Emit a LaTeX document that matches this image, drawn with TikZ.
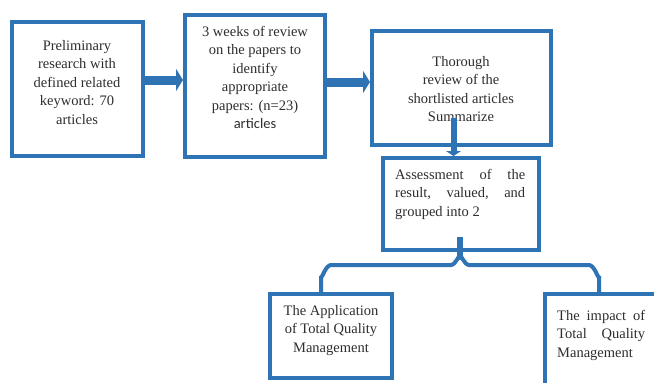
\documentclass[tikz,border=0pt]{standalone}
\usepackage{fontspec}
\setmainfont{Liberation Serif}
\newfontfamily\calibrifont{Carlito}
\usetikzlibrary{arrows.meta}
\definecolor{bl}{HTML}{2E74B5}
\begin{document}
\begin{tikzpicture}[x=1pt,y=-1pt,
  box/.style={draw=bl, line width=4pt, fill=white, inner sep=0pt},
  txt/.style={inner sep=0pt, font=\fontsize{14.5pt}{18.5pt}\selectfont, text=black!82, align=center},
  jtxt/.style={txt, align=justify},
  harrow/.style={draw=bl, line width=9pt, -{Triangle[length=7pt,width=22pt]}},
  varrow/.style={draw=bl, line width=6pt, -{Triangle[length=5pt,width=15pt]}},
  brace/.style={draw=bl, line width=4pt},
  stub/.style={draw=bl, line width=6pt}]
\useasboundingbox (0,0) rectangle (654,383);
\clip (0,0) rectangle (654,383);
\fill[white] (0,0) rectangle (654,383);
% boxes
\node[box, minimum width=131pt, minimum height=134pt] (b1) at (77.5,89) {};
\node[box, minimum width=140pt, minimum height=142pt] (b2) at (255,86) {};
\node[box, minimum width=179pt, minimum height=114pt] (b3) at (461.5,88) {};
\node[box, minimum width=156pt, minimum height=92pt] (b4) at (461,204) {};
\node[box, minimum width=122pt, minimum height=84pt] (b5) at (331,336) {};
\node[box, minimum width=160pt, minimum height=110pt] (b6) at (625,349) {};
% texts
\node[txt, anchor=north] (t1) at (77,40) {Preliminary\\research with\\defined related\\keyword: 70\\articles};
\node[txt, anchor=north] (t2) at (255,26) {3 weeks of review\\on the papers to\\identify\\appropriate\\papers: (n=23)\\{\calibrifont articles}};
\node[txt, anchor=north] (t3) at (461,56) {Thorough\\review of the\\shortlisted articles\\Summarize};
\node[jtxt, text width=130pt, anchor=north west] (t4) at (395,169) {Assessment of the\linebreak result, valued, and\linebreak grouped into 2};
\node[txt, anchor=north] (t5) at (331,305) {The Application\\of Total Quality\\Management};
\node[jtxt, text width=88pt, anchor=north west] (t6) at (557,310) {The impact of\linebreak Total Quality\linebreak Management};
% arrows
\coordinate (y80) at (0,80);
\coordinate (y82) at (0,82);
\coordinate (a3s) at (453.5,118);
\draw[harrow] (b1.east |- y80) -- (b2.west |- y80);
\draw[harrow] (b2.east |- y82) -- (b3.west |- y82);
\draw[varrow] (a3s) -- (a3s |- b4.north);
% brace
\coordinate (bs) at (460,237);
\coordinate (bl) at (321,292);
\coordinate (br) at (599,292);
\draw[stub] (bs) -- (460,259);
\draw[brace] (bl) -- (321,276) to[out=-90,in=180] (331,265) -- (451,265)
  to[out=0,in=90] (460,257) to[out=90,in=180] (469,265) -- (589,265)
  to[out=0,in=-90] (599,276) -- (br);
\end{tikzpicture}
\end{document}
